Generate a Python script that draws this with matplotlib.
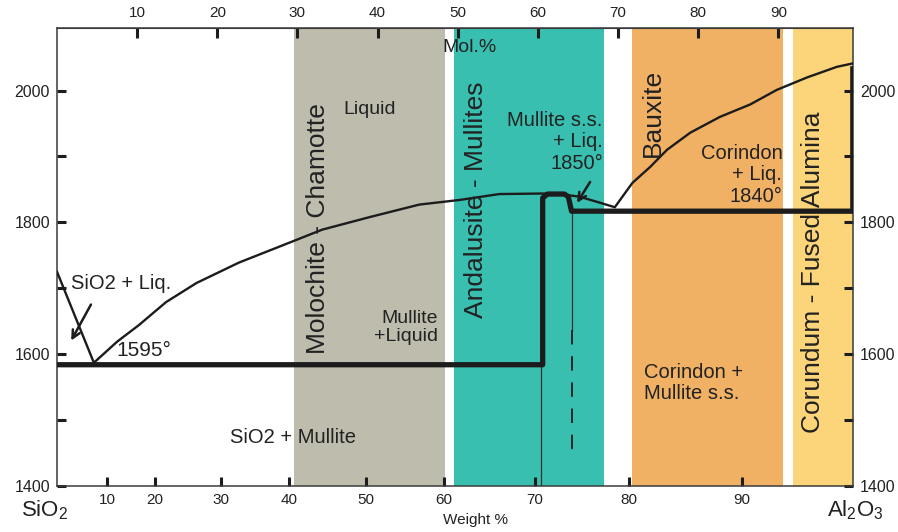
import matplotlib.pyplot as plt

plt.rcParams['font.family'] = ['Liberation Sans', 'DejaVu Sans']
plt.rcParams['mathtext.fontset'] = 'custom'
plt.rcParams['mathtext.rm'] = 'Liberation Sans'

# x is in mol.% Al2O3 (linear axis), y in degrees C
mol_ticks = [10, 20, 30, 40, 50, 60, 70, 80, 90]
wt_labels = [10, 20, 30, 40, 50, 60, 70, 80, 90]
wt_tick_pos = [6.25, 12.24, 20.4, 28.95, 38.5, 48.3, 59.6, 71.4, 85.5]   # where each wt% falls on the mol% axis
temp_ticks = [1400, 1500, 1600, 1700, 1800, 1900, 2000]

band_left = [29.6, 49.5, 71.7, 91.8]
band_right = [48.35, 68.3, 90.6, 99.3]
band_colors = ['#bdbcad', '#38bfb0', '#f0b165', '#fcd57a']

# liquidus curve
liq_x = [0, 4.6, 7.5, 10.2, 13.6, 17.4, 22.7, 27.7, 33.1, 39.0, 45.2, 50.2, 55.2,
         62.1, 65.2, 67.7, 69.6, 71.8, 74.0, 76.1, 79.0, 82.7, 86.5, 89.8, 93.6, 97.3, 99.2]
liq_t = [1725, 1587, 1619, 1644, 1679, 1708, 1739, 1763, 1789, 1808, 1827, 1834, 1843,
         1844, 1839, 1830, 1823, 1860, 1884, 1910, 1936, 1960, 1979, 2001, 2020, 2036, 2041]

# solidus / phase boundaries (thick)
sol_x = [0, 60.6, 60.6, 61.2, 63.3, 63.8, 64.2, 99.3, 99.3]
sol_t = [1584, 1584, 1837, 1843, 1843, 1839, 1817, 1817, 2033]

fig = plt.figure(figsize=(8.98, 5.32), dpi=100)
ax = fig.add_axes([0.0635, 0.0865, 0.8862, 0.8609])
ax.set_xlim(0, 99.3)
ax.set_ylim(1400, 2095)

for l, r, c in zip(band_left, band_right, band_colors):
    ax.axvspan(l, r, color=c, lw=0, zorder=0)

line_col = '#1c1c1c'
ax.plot(liq_x, liq_t, color=line_col, lw=1.7, zorder=3)
ax.plot(sol_x, sol_t, color=line_col, lw=3.8, solid_joinstyle='round', zorder=4)
ax.plot([60.4, 60.4], [1400, 1584], color='#333333', lw=0.9, zorder=3)
ax.plot([64.2, 64.2], [1817, 1637], color='#333333', lw=0.9, zorder=3)
ax.plot([64.2, 64.2], [1637, 1444], color=line_col, lw=1.3, dashes=(8, 6.5), zorder=3)

arrow = dict(arrowstyle='->', lw=1.8, color=line_col, mutation_scale=14)
ax.annotate('', xy=(1.6, 1617), xytext=(4.4, 1679), arrowprops=arrow, zorder=5)
ax.annotate('', xy=(64.7, 1826), xytext=(66.7, 1865), arrowprops=arrow, zorder=5)

tc = '#222222'
ax.text(39.0, 1971, 'Liquid', fontsize=14, color=tc, ha='center', va='center')
ax.text(32.6, 1790, 'Molochite - Chamotte', fontsize=19, color=tc, rotation=90,
        ha='center', va='center')
ax.text(52.3, 1834, 'Andalusite - Mullites', fontsize=19, color=tc, rotation=90,
        ha='center', va='center')
ax.text(74.3, 1966, 'Bauxite', fontsize=19, color=tc, rotation=90, ha='center', va='center')
ax.text(94.3, 1725, 'Corundum - Fused Alumina', fontsize=19, color=tc, rotation=90,
        ha='center', va='center')
ax.text(48.1, 2065, 'Mol.%', fontsize=14, color=tc, ha='left', va='center')
ax.text(68.1, 1922, 'Mullite s.s.\n+ Liq.\n1850°', fontsize=14.5, color=tc,
        ha='right', va='center', multialignment='right', linespacing=1.15)
ax.text(90.5, 1872, 'Corindon\n+ Liq.\n1840°', fontsize=14.5, color=tc,
        ha='right', va='center', multialignment='right', linespacing=1.15)
ax.text(1.75, 1708, 'SiO2 + Liq.', fontsize=14.5, color=tc, ha='left', va='center')
ax.text(7.4, 1606, '1595°', fontsize=15, color=tc, ha='left', va='center')
ax.text(47.5, 1640, 'Mullite\n+Liquid', fontsize=14, color=tc, ha='right', va='center',
        multialignment='right', linespacing=1.1)
ax.text(29.4, 1473, 'SiO2 + Mullite', fontsize=14.5, color=tc, ha='center', va='center')
ax.text(73.3, 1556, 'Corindon +\nMullite s.s.', fontsize=14.5, color=tc, ha='left',
        va='center', linespacing=1.15)

# axes, ticks
for s in ax.spines.values():
    s.set_color('#3a3a3a')
    s.set_linewidth(1.1)

ax.set_xticks(wt_tick_pos)
ax.set_xticklabels([str(v) for v in wt_labels])
ax.set_yticks(temp_ticks)
ax.set_yticklabels([str(t) if t % 200 == 0 else '' for t in temp_ticks])
ax.tick_params(axis='x', direction='in', length=6.5, width=2.2, color=line_col,
               labelsize=11, labelcolor=tc, pad=5)
ax.tick_params(axis='y', direction='in', length=6.5, width=2.2, color=line_col,
               labelsize=11.5, labelcolor=tc, left=True, right=True,
               labelleft=True, labelright=True, pad=6)
ax.tick_params(axis='y', which='major', pad=5)

top = ax.secondary_xaxis('top')
top.set_xticks(mol_ticks)
top.set_xticklabels([str(v) for v in mol_ticks])
top.tick_params(direction='in', length=7, width=2.2, color=line_col, labelsize=11,
                labelcolor=tc, pad=6)
top.spines['top'].set_color('#3a3a3a')

fig.text(0.05, 0.041, 'SiO$_2$', fontsize=16, color=tc, ha='center', va='center')
fig.text(0.953, 0.041, 'Al$_2$O$_3$', fontsize=16, color=tc, ha='center', va='center')
fig.text(0.53, 0.022, 'Weight %', fontsize=11, color=tc, ha='center', va='center')

fig.savefig('out.png', dpi=100)
